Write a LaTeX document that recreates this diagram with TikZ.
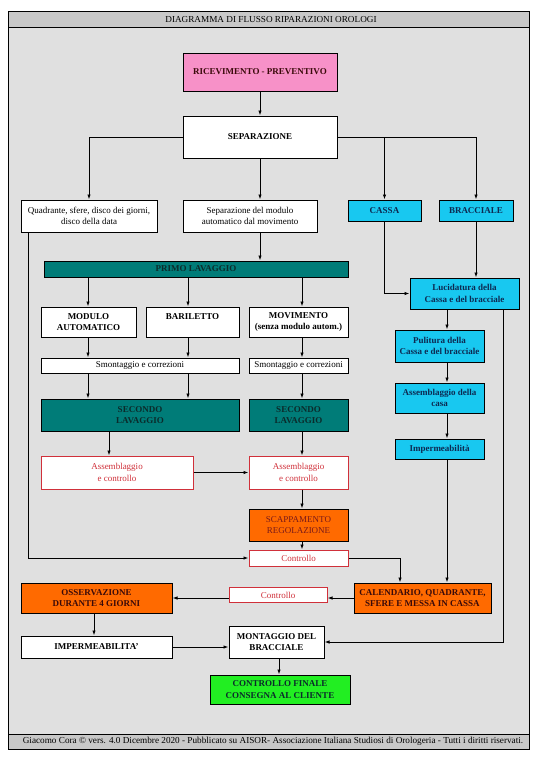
\documentclass[tikz,border=0pt]{standalone}
\usepackage{fontspec}
\setmainfont{Liberation Serif}
\usetikzlibrary{arrows.meta}
\definecolor{bgc}{HTML}{E0E0E0}
\definecolor{bandc}{HTML}{C8C8C8}
\definecolor{pinkc}{HTML}{F791C8}
\definecolor{tealc}{HTML}{007C78}
\definecolor{cyanc}{HTML}{18C8F0}
\definecolor{orangec}{HTML}{FF6A00}
\definecolor{greenc}{HTML}{22EE22}
\definecolor{redc}{HTML}{D0303A}
\definecolor{navyc}{HTML}{0D2A52}
\definecolor{darkt}{HTML}{0B2B2B}
\definecolor{brownt}{HTML}{3A0A0A}
\definecolor{scapt}{HTML}{7A1A1A}
\tikzset{
  sz/.style 2 args={minimum width=#1pt, minimum height=#2pt},
  bx/.style={draw, line width=1pt, inner sep=0pt, align=center,
    font=\fontsize{9}{11.5}\selectfont},
  wbold/.style={bx, fill=white, font=\fontsize{9}{11.5}\selectfont\bfseries},
  wreg/.style={bx, fill=white},
  tealbox/.style={bx, fill=tealc, text=darkt, font=\fontsize{9}{11.5}\selectfont\bfseries},
  cyanbox/.style={bx, fill=cyanc, text=navyc, font=\fontsize{9}{11.5}\selectfont\bfseries},
  orbox/.style={bx, fill=orangec, text=brownt, font=\fontsize{9}{11.5}\selectfont\bfseries},
  redbox/.style={bx, fill=white, draw=redc, text=redc},
  arr/.style={draw, line width=0.9pt, -{Latex[length=5pt,width=3.5pt]}}
}
\begin{document}
\begin{tikzpicture}[x=1pt,y=-1pt]
\useasboundingbox (0,0) rectangle (538,758);
% frame
\fill[white] (0,0) rectangle (538,758);
\filldraw[fill=bgc, draw=black, line width=1pt] (8,11) rectangle (529,749);
\filldraw[fill=bandc, draw=black, line width=1pt] (8,11) rectangle (529,27);
\filldraw[fill=bandc, draw=black, line width=1pt] (8,734) rectangle (529,749);
\node[font=\fontsize{9.2}{11}\selectfont] (title) at (271,19.5) {DIAGRAMMA DI FLUSSO RIPARAZIONI OROLOGI};
\node[font=\fontsize{9.2}{10}\selectfont] (foot) at (273,741.5) {Giacomo Cora © vers. 4.0 Dicembre 2020 - Pubblicato su AISOR- Associazione Italiana Studiosi di Orologeria - Tutti i diritti riservati.};

% column coordinates
\coordinate (cL) at (28,0);
\coordinate (cA) at (88,0);
\coordinate (cB) at (188,0);
\coordinate (cM) at (302,0);
\coordinate (cS) at (109,0);
\coordinate (cK) at (400,0);
\coordinate (cR) at (447,0);
\coordinate (cRR) at (503,0);
\coordinate (cO) at (94,0);
\coordinate (cF) at (279,0);
\coordinate (cC) at (260,0);

% nodes
\node[bx, fill=pinkc, text=brownt, font=\fontsize{9}{11.5}\selectfont\bfseries, sz={154}{38}] (rec) at (260,72) {RICEVIMENTO - PREVENTIVO};
\node[wbold, sz={154}{42}] (sep) at (260,137) {SEPARAZIONE};
\node[wreg, sz={136}{32}] (quad) at (89,216) {Quadrante, sfere, disco dei giorni,\\disco della data};
\node[wreg, sz={134}{32}] (sepmod) at (250,216) {Separazione del modulo\\automatico dal movimento};
\node[cyanbox, sz={73}{21}] (cassa) at (384.5,210.5) {CASSA};
\node[cyanbox, sz={74}{21}] (bracc) at (476,210.5) {BRACCIALE};
\node[tealbox, sz={304}{16}] (pl) at (196,269) {PRIMO LAVAGGIO};
\node[wbold, sz={95}{30}] (modulo) at (88.5,322) {MODULO\\AUTOMATICO};
\node[wbold, sz={93}{30}] (baril) at (192.5,322) {BARILETTO\\\mbox{}};
\node[wbold, sz={99}{30}] (movim) at (298.5,322) {MOVIMENTO\\(senza modulo autom.)};
\node[wreg, sz={198}{15}] (smont1) at (140,365.5) {Smontaggio e correzioni};
\node[wreg, sz={99}{15}] (smont2) at (298.5,365.5) {Smontaggio e correzioni};
\node[tealbox, sz={198}{32}] (sl1) at (140,415) {SECONDO\\LAVAGGIO};
\node[tealbox, sz={99}{32}] (sl2) at (298.5,415) {SECONDO\\LAVAGGIO};
\node[redbox, sz={152}{33}] (ass1) at (117,472.5) {Assemblaggio\\e controllo};
\node[redbox, sz={99}{33}] (ass2) at (298.5,472.5) {Assemblaggio\\e controllo};
\node[bx, fill=orangec, text=scapt, sz={99}{32}] (scapp) at (298.5,525) {SCAPPAMENTO\\REGOLAZIONE};
\node[redbox, sz={99}{16}] (ctrl1) at (298.5,558) {Controllo};
\node[cyanbox, sz={109}{31}] (luc) at (464.5,293.5) {Lucidatura della\\Cassa e del bracciale};
\node[cyanbox, sz={89}{32}] (pul) at (439.5,346) {Pulitura della\\Cassa e del bracciale};
\node[cyanbox, sz={89}{30}] (asscasa) at (439.5,398) {Assemblaggio della\\casa};
\node[cyanbox, sz={89}{20}] (imp1) at (439.5,449) {Impermeabilità};
\node[orbox, sz={137}{30}] (cal) at (422.5,598) {CALENDARIO, QUADRANTE,\\SFERE E MESSA IN CASSA};
\node[redbox, sz={98}{15}] (ctrl2) at (278,595) {Controllo};
\node[orbox, sz={151}{30}] (oss) at (96.5,598) {OSSERVAZIONE\\DURANTE 4 GIORNI};
\node[wbold, sz={151}{22}] (imp2) at (96.5,647) {IMPERMEABILITA'};
\node[wbold, sz={95}{32}] (mont) at (276.5,642) {MONTAGGIO DEL\\BRACCIALE};
\node[bx, fill=greenc, text=darkt, font=\fontsize{9}{11.5}\selectfont\bfseries, sz={140}{29}] (cf) at (280,689.5) {CONTROLLO FINALE\\CONSEGNA AL CLIENTE};

% connectors
\draw[arr] (rec.south) -- (sep.north);
\draw[arr] (sep.west) -| (quad.north);
\draw[arr] (sep.south) -- (cC |- sepmod.north);
\draw[arr] (sep.east) -| (bracc.north);
\draw[arr] (cassa.north |- sep.east) -- (cassa.north);
\draw[arr] (cC |- sepmod.south) -- (cC |- pl.north);
\draw[arr] (cA |- pl.south) -- (cA |- modulo.north);
\draw[arr] (cB |- pl.south) -- (cB |- baril.north);
\draw[arr] (cM |- pl.south) -- (cM |- movim.north);
\draw[arr] (cA |- modulo.south) -- (cA |- smont1.north);
\draw[arr] (cB |- baril.south) -- (cB |- smont1.north);
\draw[arr] (cM |- movim.south) -- (cM |- smont2.north);
\draw[arr] (cA |- smont1.south) -- (cA |- sl1.north);
\draw[arr] (cB |- smont1.south) -- (cB |- sl1.north);
\draw[arr] (cM |- smont2.south) -- (cM |- sl2.north);
\draw[arr] (cS |- sl1.south) -- (cS |- ass1.north);
\draw[arr] (cM |- sl2.south) -- (cM |- ass2.north);
\draw[arr] (ass1.east) -- (ass2.west);
\draw[arr] (cM |- ass2.south) -- (cM |- scapp.north);
\draw[arr] (cM |- scapp.south) -- (cM |- ctrl1.north);
\draw[arr] (cL |- quad.south) |- (ctrl1.west);
\draw[arr] (ctrl1.east) -| (cK |- cal.north);
\draw[arr] (cassa.south) |- (luc.west);
\draw[arr] (bracc.south) -- (luc.north -| bracc.south);
\draw[arr] (cR |- luc.south) -- (cR |- pul.north);
\draw[arr] (cR |- pul.south) -- (cR |- asscasa.north);
\draw[arr] (cR |- asscasa.south) -- (cR |- imp1.north);
\draw[arr] (cR |- imp1.south) -- (cR |- cal.north);
\draw[arr] (cRR |- luc.south) |- (mont.east);
\draw[arr] (cal.west) -- (cal.west -| ctrl2.east);
\draw[arr] (ctrl2.west |- oss.east) -- (oss.east);
\draw[arr] (cO |- oss.south) -- (cO |- imp2.north);
\draw[arr] (imp2.east) -- (mont.west |- imp2.east);
\draw[arr] (cF |- mont.south) -- (cF |- cf.north);
\end{tikzpicture}
\end{document}
